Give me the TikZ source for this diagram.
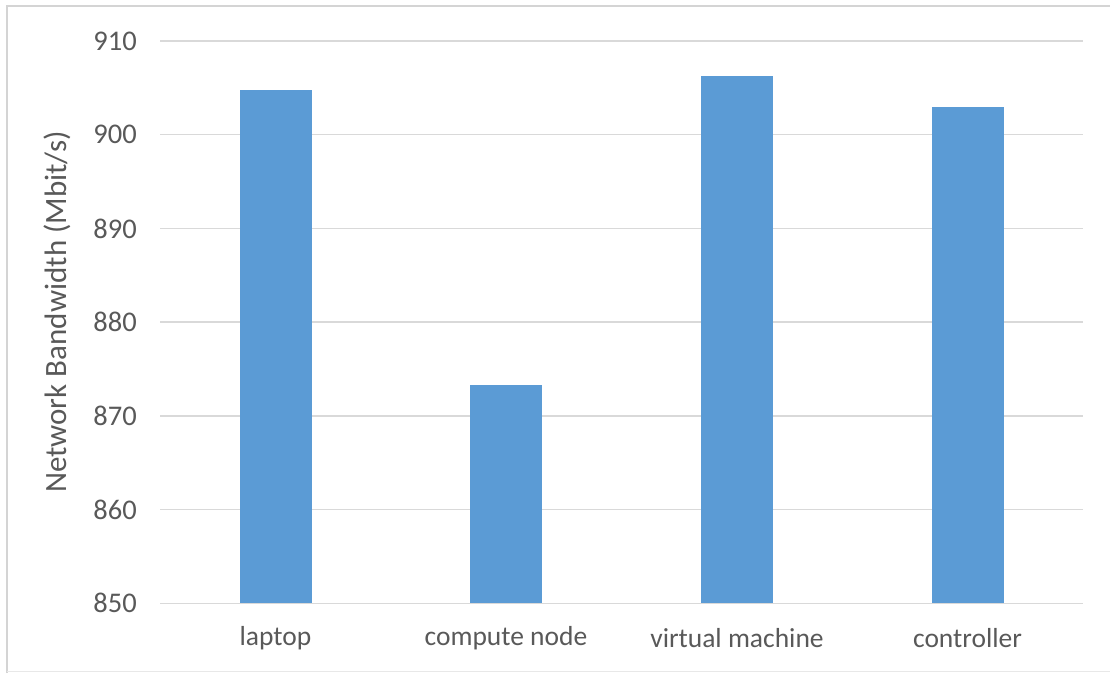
\documentclass[tikz,border=0pt]{standalone}
\usepackage{fontspec}
\setmainfont{Carlito}
\definecolor{barblue}{HTML}{5B9BD5}
\definecolor{gridgray}{HTML}{D9D9D9}
\definecolor{framegray}{HTML}{D4D4D4}
\definecolor{labelgray}{HTML}{595959}
\begin{document}
\begin{tikzpicture}[x=1pt,y=-1pt,
  gridline/.style={draw=gridgray,line width=1.3},
  bar/.style={fill=barblue,draw=none},
  ticklabel/.style={text=labelgray,font=\fontsize{28.5}{32}\selectfont,anchor=east,inner sep=0},
  catlabel/.style={text=labelgray,font=\fontsize{27.5}{32}\selectfont,anchor=center,inner sep=0},
  axistitle/.style={text=labelgray,font=\fontsize{31}{36}\selectfont,rotate=90,anchor=center,inner sep=0}]
\useasboundingbox (0,0) rectangle (1110,673);
\fill[white] (0,0) rectangle (1110,673);
% outer frame
\draw[framegray,line width=2.2] (7,673) -- (7,6) -- (1110,6);
\draw[gridgray!60,line width=0.8] (7,671.5) -- (1110,671.5);
% value axis: 850 at y=603.3, 93.72 per 10 units
\foreach \v [count=\i from 0] in {850,860,...,910}{
  \pgfmathsetmacro{\yy}{603.3-93.72*\i}
  \draw[gridline] (160,\yy) -- (1083,\yy);
  \node[ticklabel] (t\v) at (137,\yy) {\v};
}
% bars
\foreach \c/\val/\name in {275.5/904.8/laptop,506/873.3/compute node,737/906.3/virtual machine,967.5/903.0/controller}{
  \pgfmathsetmacro{\top}{603.3-9.372*(\val-850)}
  \fill[bar] (\c-36,\top) rectangle (\c+36,603.3);
  \node[catlabel] at (\c,638) {\name};
}
\node[axistitle] (ytitle) at (57,312) {Network Bandwidth (Mbit/s)};
\end{tikzpicture}
\end{document}
